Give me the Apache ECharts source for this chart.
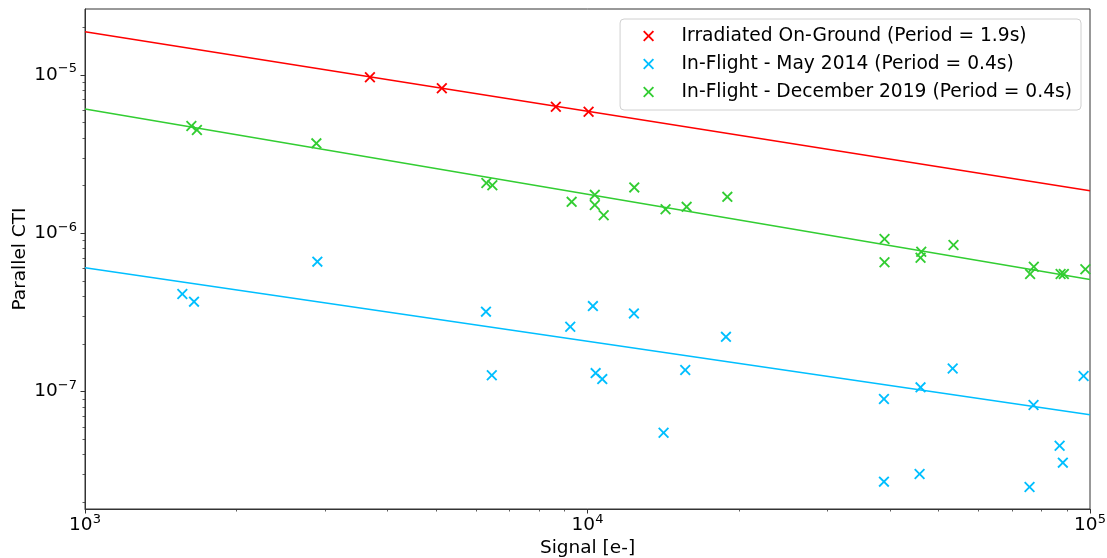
<!DOCTYPE html>
<html>
<head>
<meta charset="utf-8">
<script src="https://cdn.jsdelivr.net/npm/echarts@6/dist/echarts.min.js"></script>
<style>
html,body{margin:0;padding:0;background:#fff;}
#chart{width:1107px;height:558px;}
</style>
</head>
<body>
<div id="chart"></div>
<script>
// ---- data ----
const seriesNames = [
  'Irradiated On-Ground (Period = 1.9s)',
  'In-Flight - May 2014 (Period = 0.4s)',
  'In-Flight - December 2019 (Period = 0.4s)'
];
const redX = [3690, 5130, 8650, 10050];
const redY = [9.67e-6, 8.24e-6, 6.30e-6, 5.86e-6];

const mayX = [1562, 1648, 2900, 6280, 6450, 9240, 10250, 10380, 10700, 12370, 14170, 15650, 18860, 38900, 38900, 46000, 45800, 53300, 75800, 77200, 87000, 88300, 97100];
const mayY = [4.14e-7, 3.70e-7, 6.62e-7, 3.20e-7, 1.27e-7, 2.57e-7, 3.47e-7, 1.31e-7, 1.20e-7, 3.12e-7, 5.50e-8, 1.37e-7, 2.22e-7, 8.98e-8, 2.70e-8, 1.065e-7, 3.02e-8, 1.40e-7, 2.50e-8, 8.23e-8, 4.55e-8, 3.56e-8, 1.255e-7];

const decX = [1628, 1670, 2887, 6291, 6466, 9299, 10340, 10340, 10770, 12390, 14300, 15750, 18980, 39000, 39000, 46150, 46000, 53500, 76000, 77300, 87400, 88700, 97900];
const decY = [4.76e-6, 4.49e-6, 3.70e-6, 2.08e-6, 2.01e-6, 1.58e-6, 1.75e-6, 1.51e-6, 1.30e-6, 1.95e-6, 1.42e-6, 1.47e-6, 1.70e-6, 9.20e-7, 6.56e-7, 7.65e-7, 7.01e-7, 8.44e-7, 5.53e-7, 6.15e-7, 5.53e-7, 5.53e-7, 5.93e-7];

const fitX = [1000, 100000];
const redFit = [1.877e-5, 1.86e-6];
const mayFit = [6.07e-7, 7.15e-8];
const decFit = [6.10e-6, 5.10e-7];

const xMajor = [1e3, 1e4, 1e5];
const xMinor = [2e3, 3e3, 4e3, 5e3, 6e3, 7e3, 8e3, 9e3, 2e4, 3e4, 4e4, 5e4, 6e4, 7e4, 8e4, 9e4];
const yMajor = [1e-7, 1e-6, 1e-5];
const yMinor = [2e-8, 3e-8, 4e-8, 5e-8, 6e-8, 7e-8, 8e-8, 9e-8,
                2e-7, 3e-7, 4e-7, 5e-7, 6e-7, 7e-7, 8e-7, 9e-7,
                2e-6, 3e-6, 4e-6, 5e-6, 6e-6, 7e-6, 8e-6, 9e-6, 2e-5];
const xRange = [1000, 100000];
const yRange = [1.815e-8, 2.61e-5];

// ---- styling ----
const colors = ['#ff0000', '#00bfff', '#32cd32'];
const FONT = 'DejaVu Sans';
const XPATH = 'path://M0,12L12,0L50,38L88,0L100,12L62,50L100,88L88,100L50,62L12,100L0,88L38,50Z';
const AX = '#333';

function zip(a, b) { return a.map((v, i) => [v, b[i]]); }
function supLabel(v) {
  const e = Math.round(Math.log10(v));
  const s = e < 0 ? '\u2212' + (-e) : String(e);
  return '{b|10}{s|' + s + '}';
}
const labelRich = {
  b: { fontSize: 18.5, fontFamily: FONT, color: '#000', lineHeight: 25 },
  s: { fontSize: 13, fontFamily: FONT, color: '#000', lineHeight: 13, verticalAlign: 'top' }
};

const chart = echarts.init(document.getElementById('chart'), null, { renderer: 'canvas' });

const scatterSeries = [[redX, redY], [mayX, mayY], [decX, decY]].map((p, i) => ({
  name: seriesNames[i],
  type: 'scatter',
  data: zip(p[0], p[1]),
  symbol: XPATH,
  symbolSize: 11,
  itemStyle: { color: colors[i], opacity: 1 },
  z: 5,
  silent: true
}));
const fitSeries = [redFit, mayFit, decFit].map((f, i) => ({
  name: 'fit' + i,
  type: 'line',
  data: zip(fitX, f),
  showSymbol: false,
  symbol: 'none',
  lineStyle: { color: colors[i], width: 1.5 },
  z: 3,
  silent: true,
  animation: false
}));

chart.setOption({
  animation: false,
  backgroundColor: '#fff',
  grid: { left: 85, right: 17, top: 9, bottom: 49, containLabel: false, outerBoundsMode: 'none',
          show: true, borderColor: AX, borderWidth: 1, backgroundColor: 'transparent' },
  legend: {
    data: seriesNames.map(n => ({ name: n, icon: XPATH })),
    orient: 'vertical',
    right: 26,
    top: 19,
    padding: [7, 9, 8, 23],
    itemWidth: 28,
    itemHeight: 11,
    itemGap: 8,
    backgroundColor: 'rgba(255,255,255,0.8)',
    borderColor: '#d0d0d0',
    borderWidth: 1,
    borderRadius: 4,
    selectedMode: false,
    textStyle: { fontFamily: FONT, fontSize: 18.67, color: '#000', lineHeight: 20, padding: [0, 0, 0, 14] }
  },
  xAxis: [{
    type: 'log', logBase: 10, min: xRange[0], max: xRange[1], position: 'bottom',
    name: 'Signal [e-]', nameLocation: 'middle', nameGap: 30, nameMoveOverlap: false,
    nameTextStyle: { fontFamily: FONT, fontSize: 18.5, color: '#000' },
    axisLine: { show: true, lineStyle: { color: AX, width: 1 } },
    axisTick: { show: true, length: 4.5, lineStyle: { color: AX, width: 1 }, customValues: xMajor },
    axisLabel: { show: true, margin: 4, customValues: xMajor, formatter: v => supLabel(v), rich: labelRich },
    splitLine: { show: false }, minorTick: { show: false }
  }, {
    type: 'log', logBase: 10, min: xRange[0], max: xRange[1], position: 'bottom',
    axisLine: { show: false },
    axisTick: { show: true, length: 2.5, lineStyle: { color: AX, width: 0.8 }, customValues: xMinor },
    axisLabel: { show: false },
    splitLine: { show: false }
  }],
  yAxis: [{
    type: 'log', logBase: 10, min: yRange[0], max: yRange[1], position: 'left',
    name: 'Parallel CTI', nameLocation: 'middle', nameGap: 55, nameMoveOverlap: false,
    nameTextStyle: { fontFamily: FONT, fontSize: 18.5, color: '#000' },
    axisLine: { show: true, lineStyle: { color: AX, width: 1 } },
    axisTick: { show: true, length: 4.5, lineStyle: { color: AX, width: 1 }, customValues: yMajor },
    axisLabel: { show: true, margin: 8, customValues: yMajor, formatter: v => supLabel(v), rich: labelRich },
    splitLine: { show: false }, minorTick: { show: false }
  }, {
    type: 'log', logBase: 10, min: yRange[0], max: yRange[1], position: 'left',
    axisLine: { show: false },
    axisTick: { show: true, length: 2.5, lineStyle: { color: AX, width: 0.8 }, customValues: yMinor },
    axisLabel: { show: false },
    splitLine: { show: false }
  }],
  series: fitSeries.concat(scatterSeries)
});
</script>
</body>
</html>
